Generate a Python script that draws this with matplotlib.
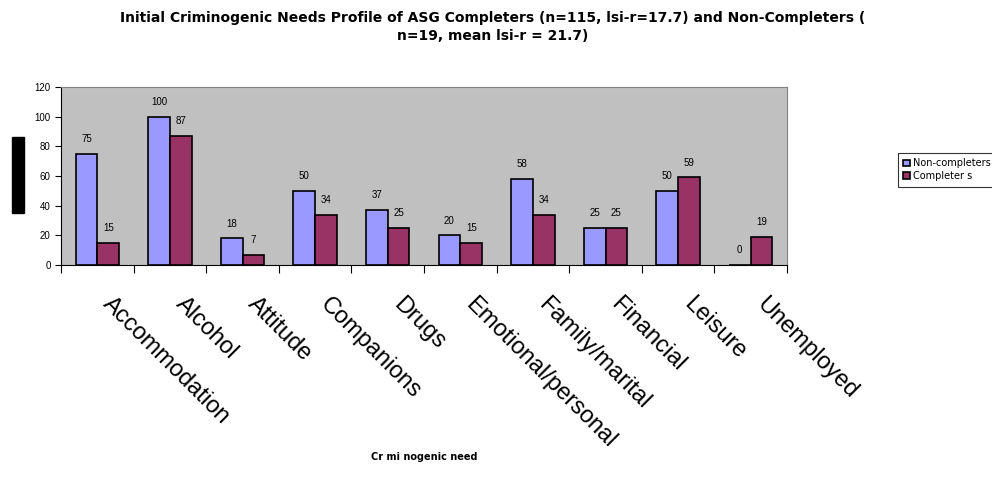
import numpy as np
import matplotlib
matplotlib.use("Agg")
import matplotlib.pyplot as plt
from matplotlib.patches import Rectangle

# data
needs = ["Accommodation", "Alcohol", "Attitude", "Companions", "Drugs",
         "Emotional/personal", "Family/marital", "Financial", "Leisure", "Unemployed"]
non_completers = [75, 100, 18, 50, 37, 20, 58, 25, 50, 0]
completers = [15, 87, 7, 34, 25, 15, 34, 25, 59, 19]

plt.rcParams['font.family'] = ['Liberation Sans', 'DejaVu Sans']

fig = plt.figure(figsize=(9.92, 4.8), dpi=100)
ax = fig.add_axes([61/992, 1-265/480, (787-61)/992, (265-87)/480])
ax.set_facecolor('#C0C0C0')

x = np.arange(len(needs))
w = 0.3
ax.bar(x - w/2, non_completers, w, color='#9999FF', edgecolor='black', linewidth=1.2,
       label='Non-completers')
ax.bar(x + w/2, completers, w, color='#993366', edgecolor='black', linewidth=1.2,
       label='Completer s')

for xi, v in zip(x - w/2, non_completers):
    ax.annotate(str(v), (xi, v), xytext=(0, 7), textcoords='offset points',
                ha='center', va='bottom', fontsize=7)
for xi, v in zip(x + w/2, completers):
    ax.annotate(str(v), (xi, v), xytext=(0, 7), textcoords='offset points',
                ha='center', va='bottom', fontsize=7)

ax.set_xlim(-0.5, len(needs) - 0.5)
ax.set_ylim(0, 120)
ax.set_yticks(range(0, 121, 20))
ax.tick_params(axis='y', labelsize=7, length=4, direction='out')

# ticks between the categories, labels near the category centres
ax.set_xticks(np.arange(-0.5, len(needs) + 0.5, 1))
ax.set_xticklabels([])
ax.tick_params(axis='x', length=6, direction='out')
for xi, name in zip(x, needs):
    ax.text(xi + 0.23, -19, name, rotation=-45, rotation_mode='anchor', ha='left', va='top',
            fontsize=17, clip_on=False)

for s in ['top', 'right']:
    ax.spines[s].set_color('#808080')
ax.spines['left'].set_color('black')
ax.spines['bottom'].set_color('black')

fig.text(493/992, 1-18/480,
         "Initial Criminogenic Needs Profile of ASG Completers (n=115, lsi-r=17.7) and Non-Completers (",
         ha='center', va='center', fontsize=10, fontweight='bold', family='DejaVu Sans')
fig.text(493/992, 1-36/480, "n=19, mean lsi-r = 21.7)",
         ha='center', va='center', fontsize=10, fontweight='bold', family='DejaVu Sans')
fig.text(424/992, 1-457/480, "Cr mi nogenic need", ha='center', va='center',
         fontsize=7, fontweight='bold', family='DejaVu Sans')

# black block where the y label sits in the reference
fig.add_artist(Rectangle((12/992, 1-213/480), 12/992, 76/480,
                         transform=fig.transFigure, color='black'))

leg = fig.legend(loc='upper left', bbox_to_anchor=(898/992, 1-153/480),
                 prop={'family': 'DejaVu Sans', 'size': 7},
                 frameon=True, fancybox=False, edgecolor='black', handlelength=0.7,
                 handleheight=0.7, handletextpad=0.3, borderpad=0.55, labelspacing=0.3,
                 borderaxespad=0)
leg.get_frame().set_linewidth(0.8)

fig.savefig("out.png", dpi=100, facecolor='white')
